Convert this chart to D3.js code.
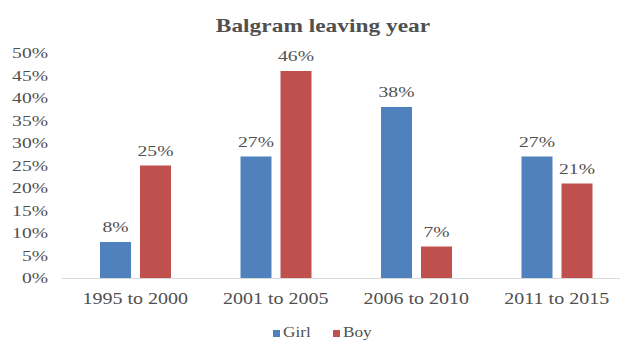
<!DOCTYPE html>
<head>
<meta charset="utf-8">
<title>Balgram leaving year</title>
<script src="https://cdn.jsdelivr.net/npm/d3@7"></script>
<style>
  body { margin: 0; background: #fff; }
  text { font-family: "Liberation Serif", "DejaVu Serif", serif; fill: #505050; }
</style>
</head>
<body>
<svg width="623" height="341"></svg>
<script>
var categories = ['1995 to 2000', '2001 to 2005', '2006 to 2010', '2011 to 2015']
var series = ['Girl', 'Boy']
var girl = [8, 27, 38, 27]
var boy = [25, 46, 7, 21]
var yTicks = [0, 5, 10, 15, 20, 25, 30, 35, 40, 45, 50]
var colors = ['#4f81bd', '#c0504d']

var svg = d3.select('svg')

var x = d3.scaleBand().domain(categories).range([65, 627])
var inner = d3.scaleBand().domain(series).range([35, 106]).paddingInner(0.225)
var y = d3.scaleLinear().domain([0, 50]).range([278, 53])

// the source picture is stretched sideways, so text gets a horizontal scale
function stretch(sel, s) {
  sel.each(function () {
    var t = d3.select(this)
    var x0 = +t.attr('x') || 0
    t.attr('x', x0 / s).attr('transform', 'scale(' + s + ',1)')
  })
}

svg.append('text')
  .attr('x', 323).attr('y', 32)
  .attr('text-anchor', 'middle')
  .style('font-size', '18px').style('font-weight', 'bold')
  .text('Balgram leaving year')
  .call(stretch, 1.3)

// y axis labels
var yAxis = d3.axisLeft(y).tickValues(yTicks).tickSize(0).tickPadding(0)
  .tickFormat(function (d) { return d + '%' })
svg.append('g').attr('transform', 'translate(48,0)').call(yAxis)
  .call(function (g) { g.select('.domain').remove() })
  .selectAll('text').style('font-size', '14px').attr('dy', '0.35em')
  .call(stretch, 1.4)

// baseline
svg.append('line')
  .attr('x1', 62).attr('x2', 620)
  .attr('y1', y(0) + 0.5).attr('y2', y(0) + 0.5)
  .attr('stroke', '#d9d9d9')

var xAxis = d3.axisBottom(x).tickSize(0).tickPadding(0)
svg.append('g').attr('transform', 'translate(0,298)').call(xAxis)
  .call(function (g) { g.select('.domain').remove() })
  .selectAll('text').style('font-size', '16px').attr('dy', '0.35em')
  .call(stretch, 1.25)

var rows = categories.map(function (c, i) { return { cat: c, vals: [girl[i], boy[i]] } })

var grp = svg.selectAll('g.grp').data(rows).enter().append('g')
  .attr('class', 'grp')
  .attr('transform', function (d) { return 'translate(' + x(d.cat) + ',0)' })

var bars = grp.selectAll('g.bar')
  .data(function (d) { return d.vals.map(function (v, j) { return { s: series[j], v: v, j: j } }) })
  .enter().append('g').attr('class', 'bar')

bars.append('rect')
  .attr('x', function (d) { return inner(d.s) })
  .attr('width', inner.bandwidth())
  .attr('y', function (d) { return y(d.v) })
  .attr('height', function (d) { return y(0) - y(d.v) })
  .attr('fill', function (d) { return colors[d.j] })

bars.append('g')
  .attr('transform', function (d) {
    return 'translate(' + (inner(d.s) + inner.bandwidth() / 2) + ',' + (y(d.v) - 10) + ')'
  })
  .append('text')
  .attr('text-anchor', 'middle')
  .style('font-size', '14px')
  .text(function (d) { return d.v + '%' })
  .call(stretch, 1.4)

// legend
var leg = svg.selectAll('g.leg').data(series).enter().append('g')
  .attr('class', 'leg')
  .attr('transform', function (d, i) { return 'translate(' + (273 + i * 60) + ',337)' })
leg.append('rect').attr('y', -7).attr('width', 7).attr('height', 7)
  .attr('fill', function (d, i) { return colors[i] })
leg.append('text').attr('x', 10).attr('y', 0)
  .style('font-size', '15px')
  .text(function (d) { return d })
  .call(stretch, 1.15)
</script>
</body>
